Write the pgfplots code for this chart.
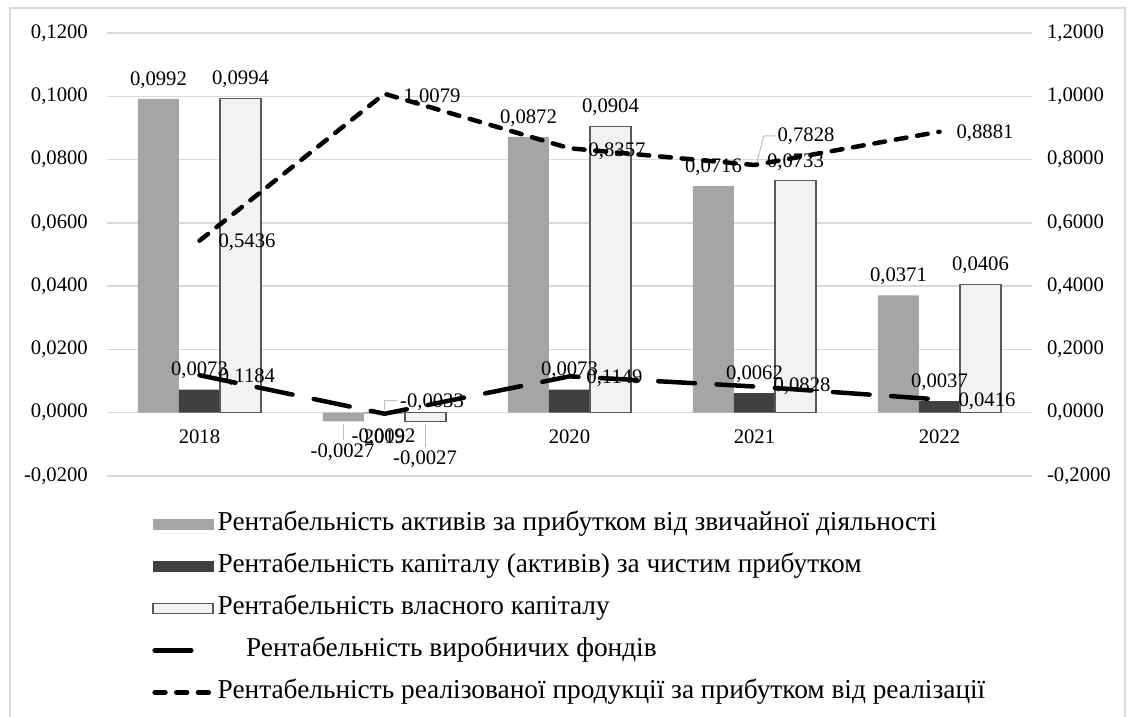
\documentclass[border=0pt]{standalone}
\usepackage{fontspec}
\setmainfont{Liberation Serif}
\usepackage{pgfplots}
\usepackage{pgfplotstable}
\pgfplotsset{compat=1.18}

\definecolor{cgrey}{HTML}{A5A5A5}
\definecolor{cdark}{HTML}{404040}
\definecolor{clight}{HTML}{F2F2F2}
\definecolor{cborder}{HTML}{595959}
\definecolor{cgrid}{HTML}{D9D9D9}
\definecolor{clead}{HTML}{BFBFBF}

\newcommand\tickfont{\fontsize{12.4}{14}\selectfont}
\newcommand\legfont{\fontsize{16.4}{19}\selectfont}

% dx, dy: offset of label centre from category/data point, in px (dy upwards)
\pgfplotstableread{
x y lbl dx dy
0 0.0992 0,0992 -41 19
1 -0.0027 -0,0027 -42 -30.5
2 0.0872 0,0872 -41 19
3 0.0716 0,0716 -41 19
4 0.0371 0,0371 -41 19
}\greytab
\pgfplotstableread{
x y lbl dx dy
0 0.0073 0,0073 0 19
1 -0.0002 -0,0092 -1 -23.4
2 0.0073 0,0073 0 19
3 0.0062 0,0062 0 19
4 0.0037 0,0037 0 19
}\darktab
\pgfplotstableread{
x y lbl dx dy
0 0.0994 0,0994 41 19
1 -0.0027 -0,0027 40.5 -37.5
2 0.0904 0,0904 41 19
3 0.0733 0,0733 41 19
4 0.0406 0,0406 41 19
}\lighttab
\pgfplotstableread{
x y lbl dx dy
0 0.1184 0,1184 47.5 -1.5
1 -0.0033 -0,0033 47.5 12
2 0.1149 0,1149 45 -1.5
3 0.0828 0,0828 47.5 0
4 0.0416 0,0416 47.5 -2
}\lineAtab
\pgfplotstableread{
x y lbl dx dy
0 0.5436 0,5436 47.5 -2
1 1.0079 1,0079 47.5 -3
2 0.8357 0,8357 47.5 -2.7
3 0.7828 0,7828 51.5 29
4 0.8881 0,8881 45.5 -2
}\lineBtab

\pgfplotsset{
  lbl/.style={
    nodes near coords={\pgfplotspointmeta},
    point meta=explicit symbolic,
    visualization depends on={\thisrow{dx}\as\dx},
    visualization depends on={\thisrow{dy}\as\dy},
    nodes near coords style={font=\tickfont, text=black, anchor=center, inner sep=0pt,
      xshift=\dx*0.6pt, yshift=\dy*0.6pt},
  },
  numfmt/.style={/pgf/number format/fixed, /pgf/number format/fixed zerofill,
    /pgf/number format/precision=4, /pgf/number format/use comma,
    /pgf/number format/assume math mode=true},
}

\begin{document}
\begin{tikzpicture}
\useasboundingbox (0,0) rectangle (677.4pt,430.2pt);
\draw[cgrid, line width=0.8pt] (6pt,-2pt) -- (6pt,425.4pt) -- (675pt,425.4pt) -- (675pt,-2pt);

\begin{axis}[
  at={(64.2pt,144.6pt)}, anchor=south west,
  scale only axis, width=555pt, height=265.8pt,
  xmin=-0.5, xmax=4.5, ymin=-0.02, ymax=0.12,
  ytick={-0.02,0,0.02,0.04,0.06,0.08,0.1,0.12},
  xtick={0,1,2,3,4}, xticklabels={2018,2019,2020,2021,2022},
  axis line style={draw=none}, tick style={draw=none}, major tick length=0pt,
  ytick pos=left, xtick pos=bottom,
  ymajorgrids, grid style={cgrid, line width=0.8pt},
  ticklabel style={font=\tickfont},
  yticklabel style={numfmt, xshift=-8pt},
  xticklabel style={anchor=center, yshift=23.6pt},
  clip=false,
  legend cell align=left,
  legend style={at={(axis description cs:0.0486,-0.08)}, anchor=north west,
    draw=none, fill=none, inner sep=0pt, font=\legfont, row sep=10.8pt,
    nodes={inner xsep=1.5pt, inner ysep=0pt, text height=11pt, text depth=3.5pt}},
]
\addlegendimage{legend image code/.code={\fill[cgrey] (0pt,-3pt) rectangle (36pt,3pt);}}
\addlegendentry{Рентабельність активів за прибутком від звичайної діяльності}
\addlegendimage{legend image code/.code={\fill[cdark] (0pt,-3pt) rectangle (36pt,3pt);}}
\addlegendentry{Рентабельність капіталу (активів) за чистим прибутком}
\addlegendimage{legend image code/.code={\draw[fill=clight, draw=cborder, line width=0.8pt] (0pt,-3pt) rectangle (36pt,3pt);}}
\addlegendentry{Рентабельність власного капіталу}
\addlegendimage{legend image code/.code={\draw[black, line width=2.7pt, line cap=round] (1pt,0pt) -- (23pt,0pt);}}
\addlegendentry{\hspace{17pt}Рентабельність виробничих фондів}
\addlegendimage{legend image code/.code={\draw[black, line width=2.7pt, line cap=round, dash pattern=on 6.5pt off 6.5pt] (1pt,0pt) -- (36pt,0pt);}}
\addlegendentry{Рентабельність реалізованої продукції за прибутком від реалізації}

\addplot[ybar, bar width=24.6pt, bar shift=-24.6pt, fill=cgrey, draw=none, forget plot, lbl]
  table[x=x, y=y, meta=lbl]{\greytab};
\addplot[ybar, bar width=24.6pt, bar shift=0pt, fill=cdark, draw=none, forget plot, lbl]
  table[x=x, y=y, meta=lbl]{\darktab};
\addplot[ybar, bar width=24.6pt, bar shift=24.6pt, fill=clight, draw=cborder, line width=0.8pt, forget plot, lbl]
  table[x=x, y=y, meta=lbl]{\lighttab};

\draw[clead, line width=0.6pt] ([xshift=-24.6pt]axis cs:1,-0.0035) -- ([xshift=-24.6pt]axis cs:1,-0.0085);
\draw[clead, line width=0.6pt] ([xshift=24.6pt]axis cs:1,-0.0035) -- ([xshift=24.6pt]axis cs:1,-0.0107);
\end{axis}

\begin{axis}[
  at={(64.2pt,144.6pt)}, anchor=south west,
  scale only axis, width=555pt, height=265.8pt,
  xmin=-0.5, xmax=4.5, ymin=-0.2, ymax=1.2,
  ytick={-0.2,0,0.2,0.4,0.6,0.8,1,1.2},
  axis x line=none, axis y line*=right,
  axis line style={draw=none}, tick style={draw=none}, major tick length=0pt,
  ticklabel style={font=\tickfont},
  yticklabel style={numfmt, xshift=5.5pt},
  clip=false,
]
\addplot[black, line width=2.7pt, line cap=round, line join=round, dash pattern=on 22pt off 13pt, mark=none, lbl]
  table[x=x, y=y, meta=lbl]{\lineAtab};
\addplot[black, line width=2.7pt, line cap=round, line join=round, dash pattern=on 6.5pt off 6.5pt, mark=none, lbl]
  table[x=x, y=y, meta=lbl]{\lineBtab};
\draw[clead, line width=0.6pt] (axis cs:1,0.0095) -- (axis cs:1,0.038) -- (axis cs:1.068,0.038);
\draw[clead, line width=0.6pt] (axis cs:3.0135,0.7926) -- (axis cs:3.05,0.8747) -- (axis cs:3.115,0.8747);
\end{axis}
\end{tikzpicture}
\end{document}
